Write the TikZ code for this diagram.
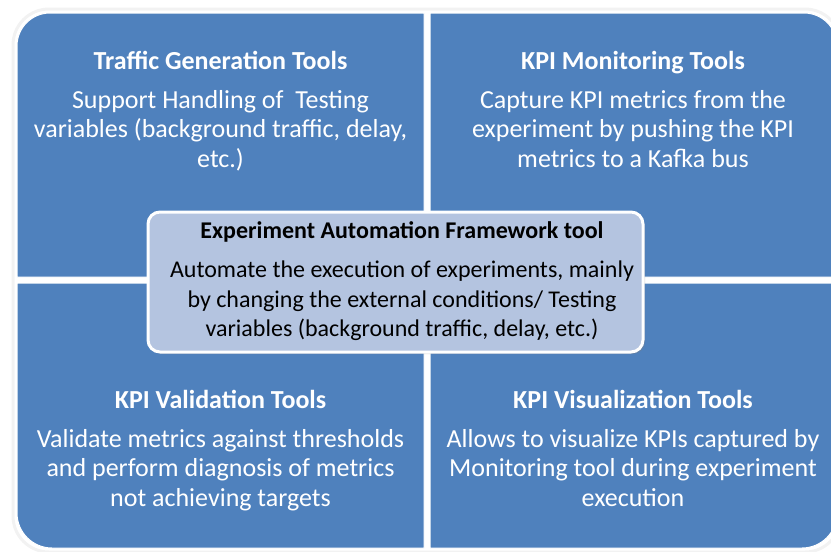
\documentclass[tikz,border=0pt]{standalone}
\usepackage{fontspec}
\setmainfont{Carlito}
\usetikzlibrary{positioning,shadows}
\definecolor{quadblue}{HTML}{4F81BD}
\definecolor{hubblue}{HTML}{B4C4E0}
\tikzset{
  quad/.style={fill=quadblue, draw=white, line width=1pt},
  hub/.style={draw=white, line width=3pt, fill=hubblue, rounded corners=12pt, minimum width=495pt, minimum height=140pt, drop shadow={shadow xshift=2pt, shadow yshift=-2pt, opacity=0.35}},
  title/.style={font=\fontsize{26}{29.5}\selectfont\bfseries, text=white, inner sep=0pt, text height=18pt, text depth=7pt},
  body/.style={font=\fontsize{26}{29.5}\selectfont, text=white, align=center, inner sep=0pt},
  hubtitle/.style={title, text=black, font=\fontsize{24}{29.5}\selectfont\bfseries, text height=17pt, text depth=6.5pt},
  hubbody/.style={body, text=black, font=\fontsize{24}{29.5}\selectfont}}

\begin{document}
\begin{tikzpicture}[x=1pt, y=-1pt, node distance=14pt]
  \useasboundingbox (0,0) rectangle (831,552);
  % faint glow round the matrix
  \draw[black!5, line width=3pt, rounded corners=36pt] (13,9) rectangle (841,552);
  % the four quadrants
  \path[quad] (17,277) [rounded corners=33pt] -- (17,13) [sharp corners] -- (424,13) -- (424,277) -- cycle;
  \path[quad] (430,13) [rounded corners=33pt] -- (837,13) [sharp corners] -- (837,277) -- (430,277) -- cycle;
  \path[quad] (424,548) [rounded corners=35pt] -- (17,548) [sharp corners] -- (17,283) -- (424,283) -- cycle;
  \path[quad] (837,283) [rounded corners=35pt] -- (837,548) [sharp corners] -- (430,548) -- (430,283) -- cycle;

  \node[title, anchor=base] (tgen) at (220.5,69) {Traffic Generation Tools};
  \node[body, below=of tgen] (tgenBody) {Support Handling of\ \ Testing\\variables (background traffic, delay,\\etc.)};
  \node[title, anchor=base] (kmon) at (633,69) {KPI Monitoring Tools};
  \node[body, below=of kmon] (kmonBody) {Capture KPI metrics from the\\experiment by pushing the KPI\\metrics to a Kafka bus};
  \node[title, anchor=base] (kval) at (220.5,408) {KPI Validation Tools};
  \node[body, below=of kval] (kvalBody) {Validate metrics against thresholds\\and perform diagnosis of metrics\\not achieving targets};
  \node[title, anchor=base] (kvis) at (633,408) {KPI Visualization Tools};
  \node[body, below=of kvis] (kvisBody) {Allows to visualize KPIs captured by\\Monitoring tool during experiment\\execution};

  % central framework box
  \node[hub] (eaf) at (395.5,282) {};
  \node[hubtitle, anchor=base] (eafTitle) at (402,238) {Experiment Automation Framework tool};
  \node[hubbody, below=16pt of eafTitle] (eafBody) {Automate the execution of experiments, mainly\\by changing the external conditions/ Testing\\variables (background traffic, delay, etc.)};
\end{tikzpicture}
\end{document}
